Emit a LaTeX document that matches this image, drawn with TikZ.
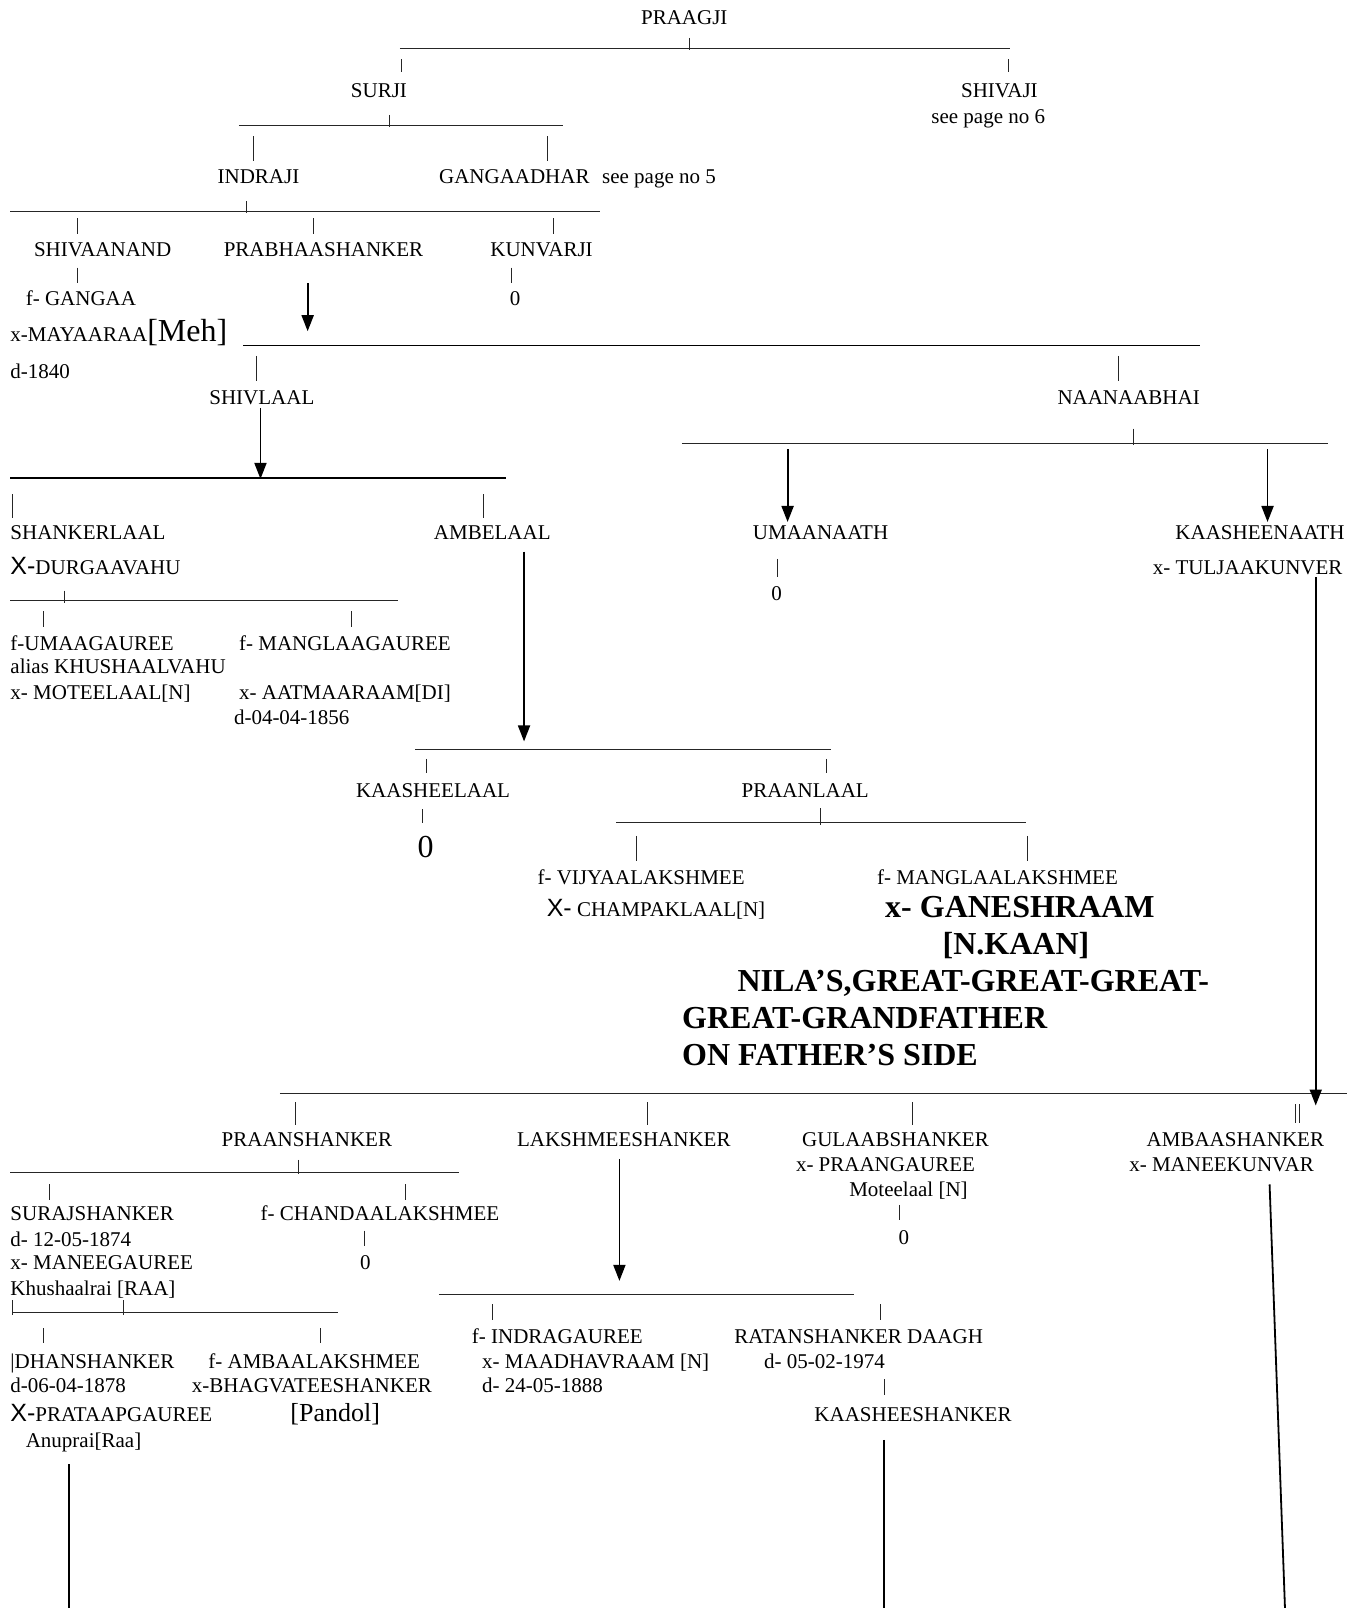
\documentclass[tikz,border=0pt]{standalone}
\usepackage{fontspec}
\setmainfont{Liberation Serif}
\newfontfamily\sansx{Liberation Sans}
\usetikzlibrary{arrows.meta}
\newcommand{\bigX}{{\sansx\fontsize{25}{25}\selectfont X-}}
\begin{document}
\begin{tikzpicture}[x=1.0257pt,y=-1.0257pt,
  t/.style={anchor=base west,inner sep=0pt,font=\fontsize{21}{25}\selectfont},
  bt/.style={anchor=base west,inner sep=0pt,font=\fontsize{32}{37}\selectfont\bfseries},
  bar/.style={line width=1pt,draw=black!85},
  heavybar/.style={line width=1.8pt},
  tick/.style={line width=0.8pt,draw=black!85},
  arr/.style={line width=1.8pt,-{Triangle[length=16pt,width=12pt]}},
  plain/.style={line width=1.8pt}]
\useasboundingbox[fill=white] (0,0) rectangle (1324,1568);

% ---------- texts ----------
\node[t] (praagji) at (625,24) {PRAAGJI};
\node[t] (surji) at (342,95) {SURJI};
\node[t] (shivaji) at (937,95) {SHIVAJI};
\node[t] (see6) at (908,120) {see page no 6};
\node[t] (indraji) at (212,179) {INDRAJI};
\node[t] (gangaadhar) at (428,179) {GANGAADHAR};
\node[t] (see5) at (587,179) {see page no 5};
\node[t] (shivaanand) at (33,250) {SHIVAANAND};
\node[t] (prabhaa) at (218,250) {PRABHAASHANKER};
\node[t] (kunvarji) at (478,250) {KUNVARJI};
\node[t] (gangaa) at (25,298) {f- GANGAA};
\node[t] (zeroA) at (497,298) {0};
\node[t] (mayaaraa) at (10,333) {x-MAYAARAA{\fontsize{32}{32}\selectfont[Meh]}};
\node[t] (d1840) at (10,369) {d-1840};
\node[t] (shivlaal) at (204,394) {SHIVLAAL};
\node[t] (naanaabhai) at (1031,394) {NAANAABHAI};
\node[t] (shankerlaal) at (10,526) {SHANKERLAAL};
\node[t] (ambelaal) at (423,526) {AMBELAAL};
\node[t] (umaanaath) at (734,526) {UMAANAATH};
\node[t] (kaasheenaath) at (1146,526) {KAASHEENAATH};
\node[t] (durgaavahu) at (10,560) {\bigX DURGAAVAHU};
\node[t] (tuljaa) at (1124,560) {x- TULJAAKUNVER};
\node[t] (zeroB) at (752,586) {0};
\node[t] (umaagauree) at (10,634) {f-UMAAGAUREE};
\node[t] (manglaagauree) at (233,634) {f- MANGLAAGAUREE};
\node[t] (alias) at (10,657) {alias KHUSHAALVAHU};
\node[t] (moteelaal) at (10,682) {x- MOTEELAAL[N]};
\node[t] (aatmaaraam) at (233,682) {x- AATMAARAAM[DI]};
\node[t] (d1856) at (228,706) {d-04-04-1856};
\node[t] (kaasheelaal) at (347,778) {KAASHEELAAL};
\node[t] (praanlaal) at (723,778) {PRAANLAAL};
\node[t,font=\fontsize{32}{32}\selectfont] (zeroC) at (407,836) {0};
\node[t] (vijyaa) at (524,862) {f- VIJYAALAKSHMEE};
\node[t] (manglaalak) at (855,862) {f- MANGLAALAKSHMEE};
\node[t] (champak) at (533,894) {\bigX{} CHAMPAKLAAL[N]};
\node[bt] (ganesh) at (863,895) {x- GANESHRAAM};
\node[bt] (nkaan) at (919,931) {[N.KAAN]};
\node[bt] (nila) at (719,967) {NILA’S,GREAT-GREAT-GREAT-};
\node[bt] (ggf) at (665,1003) {GREAT-GRANDFATHER};
\node[bt] (side) at (665,1039) {ON FATHER’S SIDE};
\node[t] (praanshanker) at (216,1118) {PRAANSHANKER};
\node[t] (lakshmee) at (504,1118) {LAKSHMEESHANKER};
\node[t] (gulaab) at (782,1118) {GULAABSHANKER};
\node[t] (ambaa) at (1118,1118) {AMBAASHANKER};
\node[t] (praangauree) at (776,1142) {x- PRAANGAUREE};
\node[t] (maneekunvar) at (1101,1142) {x- MANEEKUNVAR};
\node[t] (moteelaalN) at (828,1167) {Moteelaal [N]};
\node[t] (zeroD) at (876,1214) {0};
\node[t] (suraj) at (10,1190) {SURAJSHANKER};
\node[t] (chandaa) at (254,1190) {f- CHANDAALAKSHMEE};
\node[t] (d1874) at (10,1215) {d- 12-05-1874};
\node[t] (zeroE) at (351,1238) {0};
\node[t] (maneegauree) at (10,1238) {x- MANEEGAUREE};
\node[t] (khushaal) at (10,1263) {Khushaalrai [RAA]};
\node[t] (indragauree) at (460,1310) {f- INDRAGAUREE};
\node[t] (ratan) at (716,1310) {RATANSHANKER DAAGH};
\node[t] (dhan) at (10,1334) {|DHANSHANKER};
\node[t] (ambaalak) at (203,1334) {f- AMBAALAKSHMEE};
\node[t] (maadhav) at (470,1334) {x- MAADHAVRAAM [N]};
\node[t] (d1974) at (745,1334) {d- 05-02-1974};
\node[t] (d1878) at (10,1358) {d-06-04-1878};
\node[t] (bhagvatee) at (187,1358) {x-BHAGVATEESHANKER};
\node[t] (d1888) at (470,1358) {d- 24-05-1888};
\node[t] (prataap) at (10,1386) {\bigX PRATAAPGAUREE};
\node[t,font=\fontsize{26}{26}\selectfont] (pandol) at (283,1386) {[Pandol]};
\node[t] (kaasheeshanker) at (794,1386) {KAASHEESHANKER};
\node[t] (anuprai) at (25,1411) {Anuprai[Raa]};

% ---------- horizontal bars ----------
\draw[bar] (390,47) -- (985,47);
\draw[bar] (233,122) -- (549,122);
\draw[bar] (10,206) -- (585,206);
\draw[heavybar] (237,337) -- (1170,337);
\draw[heavybar] (10,466) -- (493,466);
\draw[bar] (665,432) -- (1295,432);
\draw[bar] (10,586) -- (388,586);
\draw[bar] (405,731) -- (810,731);
\draw[bar] (601,802) -- (1000,802);
\draw[bar,line width=1.4pt] (273,1066) -- (1313,1066);
\draw[bar] (10,1143) -- (448,1143);
\draw[bar] (428,1262) -- (833,1262);
\draw[bar] (12,1280) -- (330,1280);

% ---------- ticks ----------
\foreach \x/\a/\b in {672/37/49, 391/58/70, 983/58/70, 380/112/124,
  247/133/157, 534/133/157, 240/196/208, 75/213/228, 306/213/228, 540/213/228,
  75/261/276, 499/261/276, 250/347/372, 1091/347/372, 1105/418/434,
  12/482/505, 471/482/505, 758/545/563, 63/576/588, 42/596/611, 343/596/611,
  416/740/754, 806/740/754, 412/789/803, 800/788/804, 621/815/840, 1002/815/840,
  288/1075/1097, 631/1075/1097, 890/1075/1097, 1263/1077/1095, 1267/1077/1095,
  291/1131/1145, 48/1155/1170, 395/1155/1170, 355/1200/1215, 877/1175/1190,
  12/1268/1282, 120/1268/1282, 480/1272/1287, 858/1272/1287, 42/1295/1310,
  312/1295/1310, 862/1345/1360}
  \draw[tick] (\x,\a) -- (\x,\b);

% ---------- arrows ----------
\coordinate (a1s) at (300,276); \coordinate (a1e) at (300,323);
\coordinate (a2s) at (254,398); \coordinate (a2e) at (254,467);
\coordinate (a3s) at (768,438); \coordinate (a3e) at (768,509);
\coordinate (a4s) at (1236,438); \coordinate (a4e) at (1236,509);
\coordinate (a5s) at (511,538); \coordinate (a5e) at (511,723);
\coordinate (a6s) at (1283,563); \coordinate (a6e) at (1283,1078);
\coordinate (a7s) at (604,1130); \coordinate (a7e) at (604,1249);
\draw[arr] (a1s) -- (a1e);
\draw[arr] (a2s) -- (a2e);
\draw[arr] (a3s) -- (a3e);
\draw[arr] (a4s) -- (a4e);
\draw[arr] (a5s) -- (a5e);
\draw[arr] (a6s) -- (a6e);
\draw[arr] (a7s) -- (a7e);

% ---------- lines running off the page ----------
\coordinate (e1) at (67,1568); \coordinate (e2) at (862,1568); \coordinate (e3) at (1253,1568);
\draw[plain] (67,1428) -- (e1);
\draw[plain] (862,1404) -- (e2);
\draw[plain] (1238,1155) -- (e3);
\end{tikzpicture}
\end{document}
